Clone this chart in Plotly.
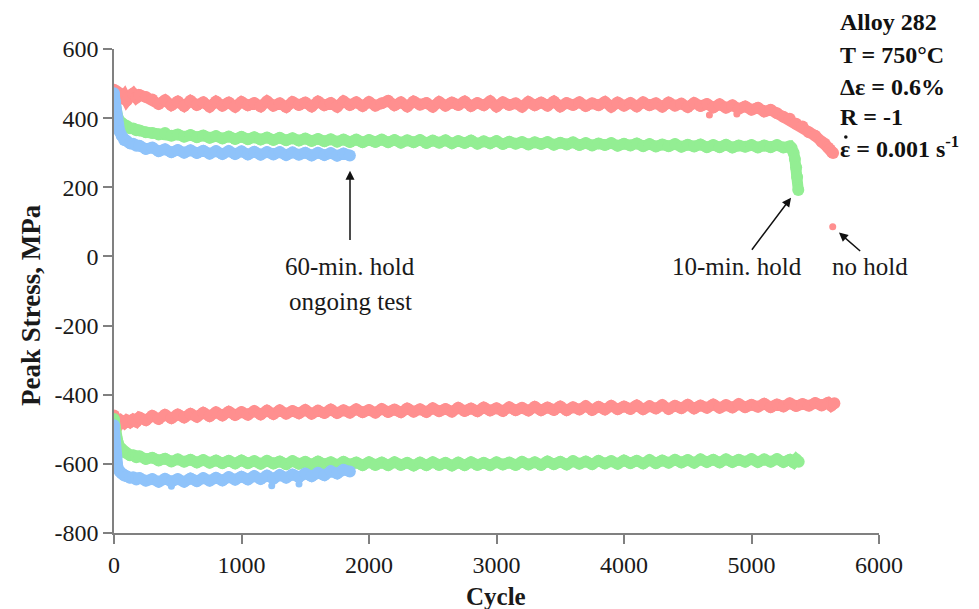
import plotly.graph_objects as go

# ---------------- data ----------------
CYC = [0, 5, 10, 20, 30, 45, 60, 80, 100, 125, 150, 175,
       200, 250, 300, 350, 400, 450, 500, 550, 600, 650,
       700, 750, 800, 850, 900, 950, 1000, 1050, 1100, 1150,
       1200, 1250, 1300, 1350, 1400, 1450, 1500, 1550, 1600, 1650,
       1700, 1750, 1800, 1850, 1900, 1950, 2000, 2050, 2100, 2150,
       2200, 2250, 2300, 2350, 2400, 2450, 2500, 2550, 2600, 2650,
       2700, 2750, 2800, 2850, 2900, 2950, 3000, 3050, 3100, 3150,
       3200, 3250, 3300, 3350, 3400, 3450, 3500, 3550, 3600, 3650,
       3700, 3750, 3800, 3850, 3900, 3950, 4000, 4050, 4100, 4150,
       4200, 4250, 4300, 4350, 4400, 4450, 4500, 4550, 4600, 4650,
       4700, 4750, 4800, 4850, 4900, 4950, 5000, 5050, 5100, 5150,
       5200, 5250, 5300, 5350, 5400, 5450, 5500, 5550]

# no hold (red) - tension peaks
RED_T = [482, 474, 468, 478, 461, 472, 457, 466, 451, 463, 471, 459,
         467, 461, 454, 441, 452, 437, 448, 435, 450, 438,
         446, 433, 448, 436, 445, 433, 447, 437, 444, 434,
         449, 436, 443, 432, 447, 438, 445, 434, 448, 437,
         444, 433, 449, 438, 446, 435, 447, 436, 443, 450,
         437, 446, 434, 448, 439, 444, 433, 447, 436, 445,
         438, 448, 435, 444, 437, 449, 434, 446, 438, 443,
         433, 447, 437, 445, 436, 448, 434, 444, 438, 446,
         435, 443, 437, 447, 433, 445, 436, 444, 434, 446,
         437, 443, 433, 445, 436, 442, 432, 444, 435, 441,
         431, 440, 430, 437, 427, 434, 424, 430, 419, 424,
         414, 404, 398, 384, 376, 359, 349, 332]
RED_T_TAIL_CYC = [5575, 5600, 5615, 5630, 5640]
RED_T_TAIL = [326, 315, 309, 302, 299]
RED_T_OUT_CYC = [5637, 4670, 4885]
RED_T_OUT = [86, 409, 412]

# no hold (red) - compression peaks
RED_C = [-460, -471, -479, -486, -480, -484, -476, -482, -474, -480, -472, -478,
         -466, -474, -461, -470, -458, -468, -457, -466, -455, -464,
         -452, -462, -451, -460, -449, -459, -450, -458, -447, -457,
         -446, -456, -445, -455, -447, -454, -444, -455, -446, -453,
         -443, -453, -445, -452, -442, -451, -444, -452, -441, -450,
         -443, -451, -440, -449, -442, -450, -439, -448, -441, -449,
         -438, -447, -440, -448, -437, -446, -439, -447, -436, -445,
         -438, -446, -435, -445, -437, -444, -434, -445, -436, -443,
         -433, -444, -435, -443, -432, -442, -434, -441, -431, -442,
         -433, -440, -430, -441, -432, -439, -429, -440, -431, -438,
         -428, -438, -430, -437, -427, -436, -429, -435, -426, -436,
         -428, -434, -425, -433, -427, -432, -424, -431]
RED_C_TAIL_CYC = [5600, 5625, 5650]
RED_C_TAIL = [-423, -432, -425]

# 10-min. hold (green) - tension peaks
GRN_T = [462, 441, 426, 409, 401, 391, 386, 379, 377, 371, 370, 365,
         364, 359, 357, 353, 357, 349, 353, 346, 351, 345,
         350, 343, 348, 341, 347, 340, 346, 339, 345, 338,
         344, 337, 343, 336, 342, 335, 341, 334, 340, 333,
         339, 332, 338, 331, 338, 330, 337, 331, 338, 330,
         337, 329, 336, 330, 337, 328, 335, 329, 336, 327,
         334, 328, 335, 326, 333, 327, 334, 325, 332, 326,
         331, 324, 330, 325, 331, 323, 329, 324, 330, 322,
         328, 321, 327, 322, 328, 320, 326, 321, 327, 319,
         325, 318, 324, 319, 325, 317, 323, 318, 324, 316,
         322, 316, 323, 315, 321, 317, 322, 315, 321, 316,
         322, 315, 319]
GRN_T_TAIL_CYC = [5315, 5330, 5340, 5350, 5358, 5367]
GRN_T_TAIL = [314, 300, 282, 258, 230, 192]

# 10-min. hold (green) - compression peaks
GRN_C = [-470, -492, -507, -526, -538, -551, -557, -566, -569, -575, -575, -581,
         -578, -586, -582, -590, -585, -593, -587, -594, -588, -596,
         -589, -597, -590, -598, -591, -599, -590, -598, -592, -600,
         -591, -599, -593, -601, -592, -600, -594, -602, -593, -601,
         -595, -603, -594, -602, -596, -604, -595, -603, -596, -604,
         -595, -603, -597, -605, -596, -604, -595, -603, -597, -605,
         -596, -604, -595, -603, -597, -604, -595, -602, -596, -603,
         -594, -602, -595, -603, -593, -601, -594, -602, -592, -600,
         -593, -601, -591, -599, -592, -600, -590, -598, -591, -599,
         -589, -598, -590, -597, -588, -596, -589, -597, -587, -595,
         -588, -596, -587, -595, -588, -594, -586, -595, -587, -594,
         -586, -595, -588]
GRN_C_TAIL_CYC = [5330, 5350, 5370]
GRN_C_TAIL = [-596, -587, -594]

# 60-min. hold (blue) - tension peaks
BLU_T = [472, 449, 431, 401, 382, 361, 349, 337, 334, 327, 326, 320,
         320, 311, 315, 304, 310, 301, 308, 300, 307, 299,
         306, 297, 305, 296, 305, 296, 304, 295, 303, 294,
         302, 295, 302, 293, 301, 294, 300, 292, 300, 293,
         299, 291, 298, 292]

# 60-min. hold (blue) - compression peaks
BLU_C = [-488, -535, -572, -598, -612, -622, -628, -634, -636, -640, -639, -645,
         -641, -649, -644, -652, -643, -651, -644, -652, -642, -650,
         -641, -649, -640, -648, -638, -646, -637, -645, -635, -644,
         -634, -643, -632, -640, -631, -638, -628, -636, -626, -633,
         -621, -628, -617, -622]
BLU_C_OUT_CYC = [1237, 1451, 450]
BLU_C_OUT = [-663, -658, -665]

Y_TICKS = [600, 400, 200, 0, -200, -400, -600, -800]
Y_TICK_TEXT = ["600", "400", "200", "0", "-200", "-400", "-600", "-800"]
X_TICKS = [0, 1000, 2000, 3000, 4000, 5000, 6000]
X_TICK_TEXT = ["0", "1000", "2000", "3000", "4000", "5000", "6000"]

RED = "#ff8f8f"
GREEN = "#93ee93"
BLUE = "#8fc3fa"
FONT = "Liberation Serif"
INK = "#1a1a1a"

# ---------------- figure ----------------
fig = go.Figure()


def band(xs, ys, color):
    fig.add_trace(go.Scatter(x=xs, y=ys, mode="lines+markers",
                             line=dict(color=color, width=11),
                             marker=dict(color=color, size=12, line=dict(width=0)),
                             showlegend=False, hoverinfo="skip"))


def dots(xs, ys, color):
    fig.add_trace(go.Scatter(x=xs, y=ys, mode="markers",
                             marker=dict(color=color, size=7, line=dict(width=0)),
                             showlegend=False, hoverinfo="skip"))


band(CYC[:len(RED_T)] + RED_T_TAIL_CYC, RED_T + RED_T_TAIL, RED)
band(CYC[:len(RED_C)] + RED_C_TAIL_CYC, RED_C + RED_C_TAIL, RED)
band(CYC[:len(GRN_T)] + GRN_T_TAIL_CYC, GRN_T + GRN_T_TAIL, GREEN)
band(CYC[:len(GRN_C)] + GRN_C_TAIL_CYC, GRN_C + GRN_C_TAIL, GREEN)
band(CYC[:len(BLU_T)], BLU_T, BLUE)
band(CYC[:len(BLU_C)], BLU_C, BLUE)
dots(RED_T_OUT_CYC, RED_T_OUT, RED)
dots(BLU_C_OUT_CYC, BLU_C_OUT, BLUE)

axis_common = dict(showline=True, linecolor="#808080", linewidth=1.5,
                   ticks="outside", tickcolor="#808080", ticklen=9, tickwidth=1.5,
                   showgrid=False, zeroline=False,
                   tickfont=dict(family=FONT, size=24, color=INK))

fig.update_xaxes(range=[0, 6000], tickvals=X_TICKS, ticktext=X_TICK_TEXT,
                 **axis_common)
fig.update_yaxes(range=[-800, 600], tickvals=Y_TICKS, ticktext=Y_TICK_TEXT,
                 **axis_common)

ann = []
# axis titles
ann.append(dict(text="<b>Peak Stress, MPa</b>", xref="paper", yref="paper",
                x=-0.1085, y=0.471, textangle=-90, showarrow=False,
                xanchor="center", yanchor="middle",
                font=dict(family=FONT, size=27, color=INK)))
ann.append(dict(text="<b>Cycle</b>", xref="paper", yref="paper",
                x=0.499, y=-0.132, showarrow=False,
                xanchor="center", yanchor="middle",
                font=dict(family=FONT, size=25, color=INK)))

# condition block
cond = ["Alloy 282", "T = 750°C", "Δε = 0.6%", "R = -1",
        "ε = 0.001 s<sup>-1</sup>"]
cond_y = [1.0564, 0.9876, 0.9221, 0.8595, 0.7975]
for t, yy in zip(cond, cond_y):
    ann.append(dict(text="<b>" + t + "</b>", xref="paper", yref="paper",
                    x=0.947, y=yy, showarrow=False, xanchor="left",
                    yanchor="middle",
                    font=dict(family=FONT, size=24, color="#111111")))

# labels
lab_font = dict(family=FONT, size=25, color=INK)
ann.append(dict(text="60-min. hold", x=1851, y=-30, xref="x", yref="y",
                showarrow=False, font=lab_font))
ann.append(dict(text="ongoing test", x=1851, y=-131, xref="x", yref="y",
                showarrow=False, font=lab_font))
ann.append(dict(text="10-min. hold", x=4884, y=-30, xref="x", yref="y",
                showarrow=False, font=lab_font))
ann.append(dict(text="no hold", x=5929, y=-30, xref="x", yref="y",
                showarrow=False, font=lab_font))

# arrows
arrow_style = dict(showarrow=True, arrowhead=2, arrowsize=1.2, arrowwidth=1.5,
                   arrowcolor="#111111", xref="x", yref="y", axref="x", ayref="y",
                   text="")
ann.append(dict(x=1851, y=248, ax=1851, ay=43, **arrow_style))
ann.append(dict(x=5310, y=170, ax=4994, ay=15, **arrow_style))
ann.append(dict(x=5686, y=69, ax=5864, ay=12, **arrow_style))

# rate dot above the epsilon of the last condition line
shapes = [dict(type="circle", xref="paper", yref="paper",
               x0=0.9543, x1=0.9590, y0=0.8145, y1=0.8220,
               fillcolor="#111111", line=dict(width=0))]

fig.update_layout(width=979, height=609,
                  margin=dict(l=114, r=100, t=49, b=76),
                  plot_bgcolor="white", paper_bgcolor="white",
                  annotations=ann, shapes=shapes, showlegend=False)

fig.write_html("out.html",
               config={"displayModeBar": False},
               post_script="document.body.style.margin='0';"
                           "document.body.style.overflow='hidden';")
